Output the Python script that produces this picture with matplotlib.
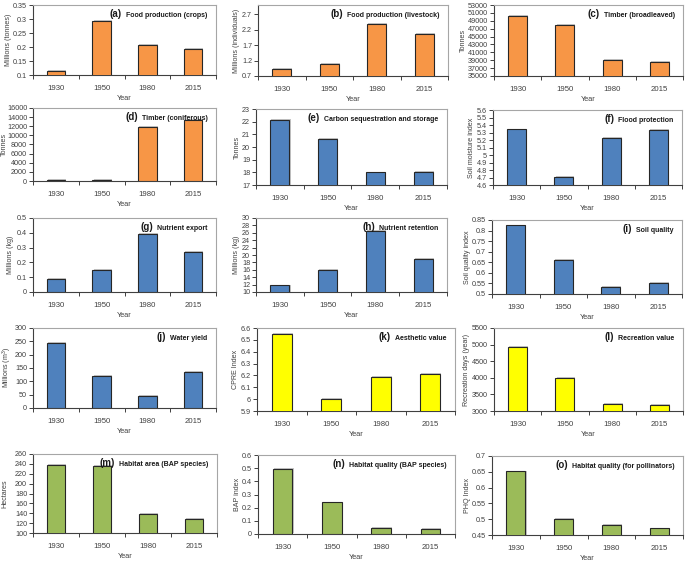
import matplotlib
matplotlib.use('Agg')
import matplotlib.pyplot as plt
import matplotlib.patheffects as pe
import matplotlib.transforms as mtransforms
from matplotlib.ticker import FuncFormatter
import numpy as np

plt.rcParams['font.family'] = ['Liberation Sans Narrow', 'Liberation Sans', 'DejaVu Sans']
plt.rcParams['mathtext.default'] = 'regular'

# ---------------- data ----------------
years = ['1930', '1950', '1980', '2015']

crops = [0.115, 0.294, 0.206, 0.192]
livestock = [0.92, 1.08, 2.38, 2.05]
broadleaved = [50200, 47900, 39100, 38500]
coniferous = [150, 150, 11900, 13400]
carbon = [22.12, 20.63, 18.0, 18.05]
flood = [5.342, 4.71, 5.231, 5.338]
nutrient_export = [0.09, 0.15, 0.393, 0.272]
nutrient_retention = [11.8, 16.0, 26.4, 19.0]
soil_quality = [0.824, 0.662, 0.532, 0.551]
water_yield = [245, 120, 46, 136]
aesthetic = [6.553, 6.0, 6.185, 6.212]
recreation = [4940, 3990, 3220, 3180]
habitat_area = [237.5, 235.5, 138, 129]
habitat_quality = [0.494, 0.24, 0.045, 0.038]
pollinators = [0.651, 0.50, 0.481, 0.471]

ORANGE = '#F79646'
BLUE = '#4F81BD'
YELLOW = '#FFFF00'
GREEN = '#9BBB59'

# (letter, title, values, colour, ylabel, ymin, ymax, ytop_tick, step, box[l,t,r,b] px, ylabel x px)
panels = [
    ('(a)', 'Food production (crops)', crops, ORANGE, 'Millions (tonnes)', 0.1, 0.35, 0.35, 0.05, (33, 5, 216, 75), 11),
    ('(b)', 'Food production (livestock)', livestock, ORANGE, 'Millions (individuals)', 0.7, 3.0, 2.7, 0.5, (258, 5, 448, 76), 236),
    ('(c)', 'Timber (broadleaved)', broadleaved, ORANGE, 'Tonnes', 35000, 53000, 53000, 2000, (494, 5, 683, 76), 463),
    ('(d)', 'Timber (coniferous)', coniferous, ORANGE, 'Tonnes', 0, 16000, 16000, 2000, (33, 108, 216, 181), 5),
    ('(e)', 'Carbon sequestration and storage', carbon, BLUE, 'Tonnes', 17, 23, 23, 1, (256, 109, 447, 185), 237),
    ('(f)', 'Flood protection', flood, BLUE, 'Soil moisture index', 4.6, 5.6, 5.6, 0.1, (493, 110, 682, 185), 472),
    ('(g)', 'Nutrient export', nutrient_export, BLUE, 'Millions (kg)', 0, 0.5, 0.5, 0.1, (33, 218, 216, 292), 11),
    ('(h)', 'Nutrient retention', nutrient_retention, BLUE, 'Millions (kg)', 10, 30, 30, 2, (256, 218, 447, 292), 240),
    ('(i)', 'Soil quality', soil_quality, BLUE, 'Soil quality index', 0.5, 0.85, 0.85, 0.05, (492, 220, 682, 294), 471),
    ('(j)', 'Water yield', water_yield, BLUE, 'Millions (m$^3$)', 0, 300, 300, 50, (33, 328, 216, 408), 7),
    ('(k)', 'Aesthetic value', aesthetic, YELLOW, 'CPRE Index', 5.9, 6.6, 6.6, 0.1, (257, 328, 455, 411), 237),
    ('(l)', 'Recreation value', recreation, YELLOW, 'Recreation days (year)', 3000, 5500, 5500, 500, (494, 328, 683, 411), 466),
    ('(m)', 'Habitat area (BAP species)', habitat_area, GREEN, 'Hectares', 100, 260, 260, 20, (33, 454, 217, 533), 5),
    ('(n)', 'Habitat quality (BAP species)', habitat_quality, GREEN, 'BAP index', 0, 0.6, 0.6, 0.1, (258, 455, 455, 534), 243),
    ('(o)', 'Habitat quality (for pollinators)', pollinators, GREEN, 'PHQ Index', 0.45, 0.7, 0.7, 0.05, (492, 456, 683, 535), 472),
]

W, H = 685, 564
fig = plt.figure(figsize=(W / 100, H / 100), dpi=100)


def fmt(v, pos):
    s = f'{v:.4f}'.rstrip('0').rstrip('.')
    return '0' if s in ('-0', '') else s


TXT = '#404040'
axes_info = []
for letter, title, vals, col, ylab, ymin, ymax, ytop, step, box, ylx in panels:
    l, t, r, b = box
    ax = fig.add_axes([l / W, 1 - b / H, (r - l) / W, (b - t) / H])
    x = np.arange(len(years))
    bars = ax.bar(x, vals, width=0.4, color=col, edgecolor='#262626', linewidth=0.8, zorder=3)
    for p in bars:
        p.set_path_effects([pe.SimplePatchShadow(offset=(0.8, 0.6), shadow_rgbFace='#8c8c8c', alpha=0.5),
                            pe.Normal()])
    ax.set_xlim(-0.5, 3.5)
    ax.set_ylim(ymin, ymax)
    ax.set_yticks(np.arange(ymin, ytop + step / 2, step))
    ax.yaxis.set_major_formatter(FuncFormatter(fmt))
    ax.set_xticks(x)
    ax.set_xticklabels(years)
    ax.set_xticks([-0.5, 0.5, 1.5, 2.5, 3.5], minor=True)
    ax.tick_params(axis='x', which='major', length=0, pad=7, labelsize=5.6, labelcolor=TXT)
    ax.tick_params(axis='x', which='minor', length=3, width=0.7, direction='out', color='#404040')
    ax.tick_params(axis='y', which='major', length=3, width=0.7, direction='out', pad=1.2,
                   labelsize=5.2, labelcolor=TXT, color='#404040')
    for s in ('top', 'right'):
        ax.spines[s].set_color('#A6A6A6')
        ax.spines[s].set_linewidth(0.8)
    for s in ('left', 'bottom'):
        ax.spines[s].set_color('#404040')
        ax.spines[s].set_linewidth(0.8)
    ax.set_xlabel('Year', fontsize=5.3, color=TXT, labelpad=2.5)
    ax.set_ylabel(ylab, fontsize=5.1, color=TXT, va='center')
    trans = mtransforms.offset_copy(ax.transAxes, fig=fig, x=-6, y=-8.5, units='points')
    tt = ax.text(1, 1, title, transform=trans, ha='right', va='baseline', fontsize=5.0,
                 fontweight='bold', color='#1a1a1a')
    axes_info.append((ax, tt, letter, ylx, l, r))

fig.canvas.draw()
renderer = fig.canvas.get_renderer()
for ax, tt, letter, ylx, l, r in axes_info:
    bb = tt.get_window_extent(renderer)
    wpt = bb.width * 72 / fig.dpi
    trans = mtransforms.offset_copy(ax.transAxes, fig=fig, x=-6 - wpt - 3, y=-8.5, units='points')
    ax.text(1, 1, letter, transform=trans, ha='right', va='baseline', fontsize=7.0,
            fontweight='bold', color='#1a1a1a')
    lefts = [lab.get_window_extent(renderer).x0 for lab in ax.get_yticklabels() if lab.get_text()]
    tick_left = min(lefts) if lefts else l
    lab_h = ax.yaxis.label.get_window_extent(renderer).width
    xpx = min(ylx, tick_left - lab_h / 2 - 1.5)
    xpx = max(xpx, lab_h / 2 + 0.5)
    ax.yaxis.set_label_coords((xpx - l) / (r - l), 0.5)

fig.savefig('out.png', dpi=100)
